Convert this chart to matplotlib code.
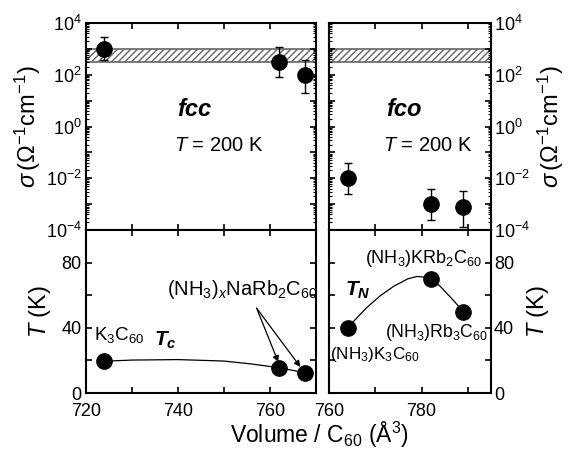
import numpy as np
import matplotlib
matplotlib.use('Agg')
import matplotlib.pyplot as plt
from matplotlib.ticker import FixedLocator, FuncFormatter, LogLocator, MultipleLocator, NullFormatter

plt.rcParams['font.family'] = ['Liberation Sans', 'DejaVu Sans']
plt.rcParams['mathtext.fontset'] = 'custom'
plt.rcParams['mathtext.rm'] = 'Liberation Sans'
plt.rcParams['mathtext.it'] = 'Liberation Sans:italic'
plt.rcParams['mathtext.bf'] = 'Liberation Sans:bold'
plt.rcParams['mathtext.bfit'] = 'Liberation Sans:italic:bold'
plt.rcParams['font.size'] = 13

# conductivity at 200 K
fcc_vol = [724, 762, 767.5]
fcc_sig = [1000, 316, 100]
fcc_lo = [370, 80, 20]
fcc_hi = [3000, 1200, 370]
fco_vol = [764, 782, 789]
fco_sig = [0.01, 0.001, 0.00076]
fco_lo = [0.0025, 0.00025, 0.00013]
fco_hi = [0.04, 0.004, 0.0032]
band = [300, 1000]

# transition temperatures
tc_vol = [724, 762, 767.5]
tc_val = [19.5, 15.5, 12.5]
tn_vol = [764, 782, 789]
tn_val = [40, 70, 50]

# guide lines
tc_line_v = [724, 730, 740, 750, 756, 762, 767.5]
tc_line_t = [19.5, 20.2, 20.5, 19.6, 17.8, 15.5, 12.5]
tn_line_v = [764, 766, 768, 771, 774, 777, 779, 781, 782, 784, 786.5, 789]
tn_line_t = [40, 46, 52, 59.5, 65.5, 70, 71.5, 71, 70, 65.5, 58, 50]

W, H = 571, 449
fig = plt.figure(figsize=(W / 100, H / 100), dpi=100)

def box(x0, y0, x1, y1):
    return [x0 / W, 1 - y1 / H, (x1 - x0) / W, (y1 - y0) / H]

axTL = fig.add_axes(box(86, 23, 316, 230))
axTR = fig.add_axes(box(329, 23, 491, 230))
axBL = fig.add_axes(box(86, 230, 316, 393))
axBR = fig.add_axes(box(329, 230, 491, 393))

def logfmt(v, pos):
    e = int(round(np.log10(v)))
    if e % 2:
        return ''
    return r'$10^{%d}$' % e

for ax in (axTL, axTR, axBL, axBR):
    for s in ax.spines.values():
        s.set_linewidth(1.5)
    ax.tick_params(which='both', direction='in', top=True, right=True, left=True, bottom=True)
    ax.tick_params(which='major', length=4, width=1.2, labelsize=13)
    ax.tick_params(which='minor', length=2, width=0.8)
    ax.tick_params(axis='x', pad=7)
    ax.tick_params(axis='y', pad=3)

for ax in (axTL, axTR):
    ax.set_yscale('log')
    ax.set_ylim(1e-4, 1e4)
    ax.yaxis.set_major_locator(FixedLocator([10.0 ** k for k in range(-4, 5)]))
    ax.yaxis.set_major_formatter(FuncFormatter(logfmt))
    ax.yaxis.set_minor_locator(LogLocator(base=10, subs=np.arange(2, 10), numticks=100))
    ax.yaxis.set_minor_formatter(NullFormatter())
    ax.tick_params(labelbottom=False)

axTL.set_xlim(720, 770)
axBL.set_xlim(720, 770)
axTR.set_xlim(760, 795)
axBR.set_xlim(760, 795)
for ax in (axTL, axTR, axBL, axBR):
    ax.xaxis.set_major_locator(MultipleLocator(10))
for ax in (axBL, axBR):
    ax.set_ylim(0, 100)
    ax.yaxis.set_major_locator(MultipleLocator(40))
    ax.yaxis.set_minor_locator(MultipleLocator(20))
    ax.tick_params(which='minor', length=4, width=1.2)
axBL.set_xticks([720, 730, 740, 750, 760, 770])
axBL.set_xticklabels(['720', '', '740', '', '760', ''])
axBR.set_xticks([760, 770, 780, 790])
axBR.set_xticklabels(['760', '', '780', ''])

for ax in (axTR, axBR):
    ax.tick_params(labelleft=False, labelright=True, axis='y', pad=2)
    ax.yaxis.set_label_position('right')

# hatched band
for ax in (axTL, axTR):
    ax.axhspan(band[0], band[1], facecolor='white', edgecolor='#666666', hatch='/////', linewidth=1.2, zorder=1)

mk = dict(fmt='o', color='black', markersize=11, capsize=3, elinewidth=1, capthick=1, zorder=3)
axTL.errorbar(fcc_vol, fcc_sig,
              yerr=[np.array(fcc_sig) - np.array(fcc_lo), np.array(fcc_hi) - np.array(fcc_sig)], **mk)
axTR.errorbar(fco_vol, fco_sig,
              yerr=[np.array(fco_sig) - np.array(fco_lo), np.array(fco_hi) - np.array(fco_sig)], **mk)

axTL.text(743.5, 4.4, 'fcc', fontsize=17, fontweight='bold', fontstyle='italic', ha='center', va='center')
axTL.text(739.2, 0.19, r'$T$ = 200 K', fontsize=14.5, ha='left', va='center')
axTR.text(776.2, 4.4, 'fco', fontsize=17, fontweight='bold', fontstyle='italic', ha='center', va='center')
axTR.text(771.6, 0.19, r'$T$ = 200 K', fontsize=14.5, ha='left', va='center')

axTL.set_ylabel(r'$\sigma\,(\Omega^{-1}$cm$^{-1})$', fontsize=17, labelpad=2)
axTR.set_ylabel(r'$\sigma\,(\Omega^{-1}$cm$^{-1})$', fontsize=17, labelpad=4)
axBL.set_ylabel(r'$T$ (K)', fontsize=17, labelpad=6)
axBR.set_ylabel(r'$T$ (K)', fontsize=17, labelpad=8)

# bottom panels
axBL.plot(tc_line_v, tc_line_t, color='black', lw=0.9, zorder=2)
axBL.plot(tc_vol, tc_val, 'o', color='black', markersize=11, zorder=3)
axBR.plot(tn_line_v, tn_line_t, color='black', lw=0.9, zorder=2)
axBR.plot(tn_vol, tn_val, 'o', color='black', markersize=11, zorder=3)

axBL.text(721.8, 35.5, r'K$_3$C$_{60}$', fontsize=13.5, ha='left', va='center')
axBL.text(737.2, 32, r'$\mathbfit{T}_{\mathbfit{c}}$', fontsize=15, ha='center', va='center')
axBL.text(737.6, 63.5, r'(NH$_3$)$_x$NaRb$_2$C$_{60}$', fontsize=14.5, ha='left', va='center')
for tx, ty in [(761.8, 19), (766.6, 16)]:
    axBL.annotate('', xy=(tx, ty), xytext=(757.1, 52),
                  arrowprops=dict(arrowstyle='-|>', color='black', lw=0.9, mutation_scale=9, shrinkA=0, shrinkB=0))

axBR.text(780.5, 82.8, r'(NH$_3$)KRb$_2$C$_{60}$', fontsize=13, ha='center', va='center')
axBR.text(766.3, 63, r'$\mathbfit{T}_{\mathbfit{N}}$', fontsize=15, ha='center', va='center')
axBR.text(794.3, 37, r'(NH$_3$)Rb$_3$C$_{60}$', fontsize=12.7, ha='right', va='center')
axBR.text(760.3, 23.5, r'(NH$_3$)K$_3$C$_{60}$', fontsize=12.3, ha='left', va='center')

fig.text(319 / W, 1 - 435 / H, r'Volume / C$_{60}$ ($\mathrm{\AA}^3$)', fontsize=16.5, ha='center', va='center')

fig.savefig('out.png', dpi=100)
